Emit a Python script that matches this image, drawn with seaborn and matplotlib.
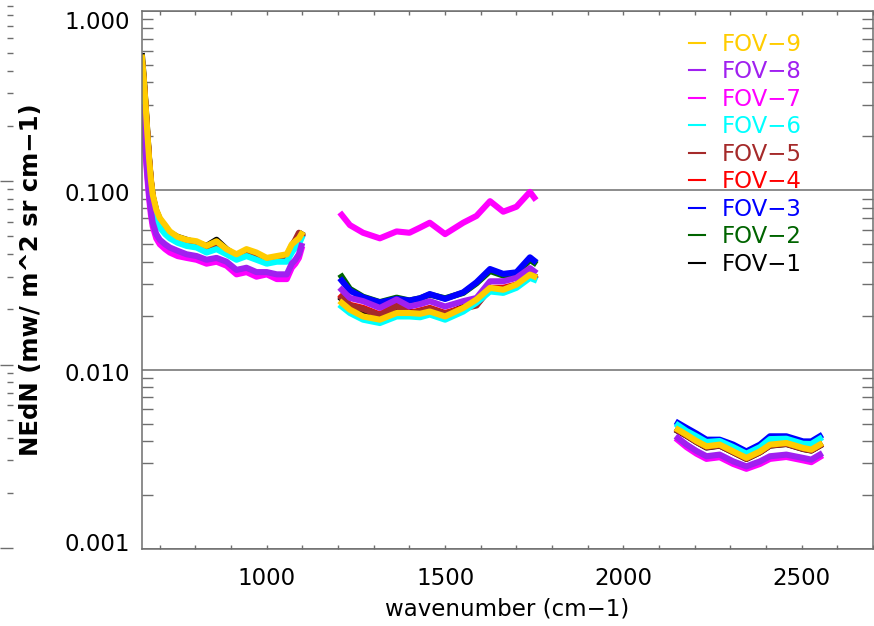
import matplotlib
matplotlib.use("Agg")
import matplotlib.pyplot as plt
import matplotlib.transforms as mtransforms
from matplotlib.lines import Line2D
from matplotlib.ticker import MultipleLocator, LogLocator, NullFormatter, FixedLocator
import numpy as np
import pandas as pd
import seaborn as sns

# ---------------- data ----------------
fov_names = ["FOV-1", "FOV-2", "FOV-3", "FOV-4", "FOV-5", "FOV-6", "FOV-7", "FOV-8", "FOV-9"]
fov_labels = ["FOV\u22121", "FOV\u22122", "FOV\u22123", "FOV\u22124", "FOV\u22125",
              "FOV\u22126", "FOV\u22127", "FOV\u22128", "FOV\u22129"]
fov_colors = ["#000000", "#006400", "#0000FF", "#FF0000", "#A52A2A",
              "#00FFFF", "#FF00FF", "#A020F0", "#FFCC00"]

# long-wave band
lw_x = [650, 655, 660, 665, 670, 675, 680, 690, 700, 715, 728, 750, 775, 803, 831,
        859, 887, 915, 943, 971, 1000, 1028, 1056, 1070, 1080, 1090, 1097]
lw_fov1 = [0.56, 0.42, 0.30, 0.21, 0.148, 0.113, 0.093, 0.077, 0.069, 0.062, 0.058, 0.055, 0.053, 0.051,
           0.049, 0.053, 0.047, 0.043, 0.046, 0.044, 0.041, 0.042, 0.043, 0.049, 0.052, 0.054, 0.057]
lw_fov2 = [0.53, 0.41, 0.29, 0.20, 0.146, 0.111, 0.091, 0.075, 0.068, 0.062, 0.057, 0.054, 0.052, 0.050,
           0.048, 0.050, 0.046, 0.043, 0.045, 0.044, 0.041, 0.042, 0.042, 0.048, 0.051, 0.053, 0.056]
lw_fov3 = [0.52, 0.40, 0.28, 0.20, 0.144, 0.110, 0.090, 0.074, 0.067, 0.061, 0.057, 0.053, 0.051, 0.050,
           0.048, 0.050, 0.046, 0.043, 0.045, 0.043, 0.041, 0.041, 0.042, 0.047, 0.050, 0.052, 0.055]
lw_fov4 = [0.52, 0.40, 0.29, 0.20, 0.145, 0.111, 0.091, 0.075, 0.067, 0.061, 0.056, 0.053, 0.051, 0.050,
           0.048, 0.049, 0.046, 0.042, 0.045, 0.043, 0.041, 0.041, 0.042, 0.048, 0.051, 0.053, 0.056]
lw_fov5 = [0.53, 0.41, 0.29, 0.205, 0.147, 0.112, 0.092, 0.076, 0.068, 0.062, 0.057, 0.054, 0.052, 0.050,
           0.048, 0.050, 0.046, 0.043, 0.045, 0.044, 0.041, 0.042, 0.043, 0.049, 0.053, 0.058, 0.056]
lw_fov6 = [0.47, 0.36, 0.26, 0.18, 0.13, 0.100, 0.083, 0.068, 0.062, 0.057, 0.054, 0.051, 0.049, 0.048,
           0.045, 0.047, 0.044, 0.041, 0.043, 0.041, 0.039, 0.040, 0.040, 0.045, 0.048, 0.050, 0.054]
lw_fov7 = [0.27, 0.22, 0.16, 0.118, 0.090, 0.073, 0.063, 0.054, 0.050, 0.047, 0.045, 0.043, 0.042, 0.041,
           0.039, 0.040, 0.038, 0.034, 0.035, 0.033, 0.034, 0.032, 0.032, 0.037, 0.039, 0.042, 0.047]
lw_fov8 = [0.29, 0.23, 0.17, 0.125, 0.095, 0.077, 0.066, 0.057, 0.053, 0.050, 0.048, 0.046, 0.044, 0.043,
           0.041, 0.042, 0.040, 0.036, 0.037, 0.035, 0.035, 0.034, 0.034, 0.039, 0.041, 0.044, 0.049]
lw_fov9 = [0.55, 0.42, 0.30, 0.21, 0.15, 0.115, 0.095, 0.078, 0.070, 0.064, 0.059, 0.055, 0.053, 0.052,
           0.049, 0.052, 0.047, 0.044, 0.047, 0.045, 0.042, 0.043, 0.044, 0.050, 0.052, 0.054, 0.057]

# mid-wave band
mw_x = [1210, 1233, 1270, 1317, 1364, 1400, 1430, 1457, 1500, 1551, 1588, 1626, 1663, 1700, 1738, 1750]
mw_fov1 = [0.0248, 0.0224, 0.0212, 0.0198, 0.0220, 0.0210, 0.0208, 0.0215, 0.0203, 0.0224, 0.0238, 0.0280,
           0.0280, 0.0292, 0.0335, 0.0330]
mw_fov2 = [0.0330, 0.0282, 0.0255, 0.0238, 0.0252, 0.0243, 0.0250, 0.0262, 0.0250, 0.0268, 0.0303, 0.0355,
           0.0335, 0.0342, 0.0410, 0.0395]
mw_fov3 = [0.0314, 0.0276, 0.0253, 0.0237, 0.0248, 0.0243, 0.0250, 0.0264, 0.0248, 0.0270, 0.0307, 0.0364,
           0.0342, 0.0349, 0.0423, 0.0405]
mw_fov4 = [0.0256, 0.0230, 0.0221, 0.0203, 0.0230, 0.0207, 0.0214, 0.0221, 0.0207, 0.0221, 0.0230, 0.0286,
           0.0286, 0.0298, 0.0339, 0.0325]
mw_fov5 = [0.0252, 0.0228, 0.0218, 0.0201, 0.0226, 0.0205, 0.0212, 0.0219, 0.0205, 0.0219, 0.0228, 0.0283,
           0.0282, 0.0295, 0.0342, 0.0328]
mw_fov6 = [0.0225, 0.0207, 0.0190, 0.0182, 0.0198, 0.0198, 0.0196, 0.0203, 0.0190, 0.0211, 0.0236, 0.0273,
           0.0268, 0.0286, 0.0325, 0.0318]
mw_fov7 = [0.073, 0.064, 0.058, 0.054, 0.059, 0.058, 0.062, 0.066, 0.057, 0.066, 0.072, 0.087,
           0.076, 0.081, 0.098, 0.091]
mw_fov8 = [0.0279, 0.0251, 0.0241, 0.0221, 0.0246, 0.0225, 0.0232, 0.0241, 0.0225, 0.0241, 0.0251, 0.0311,
           0.0311, 0.0325, 0.0368, 0.0353]
mw_fov9 = [0.0236, 0.0216, 0.0198, 0.0190, 0.0207, 0.0207, 0.0205, 0.0211, 0.0198, 0.0221, 0.0246, 0.0286,
           0.0279, 0.0298, 0.0339, 0.0331]

# short-wave band
sw_x = [2153, 2177, 2205, 2233, 2270, 2308, 2345, 2383, 2411, 2457, 2504, 2527, 2551]
sw_fov1 = [0.00455, 0.00428, 0.00395, 0.00368, 0.00377, 0.00346, 0.00318, 0.00346, 0.00377, 0.00385,
           0.00361, 0.00354, 0.00377]
sw_fov2 = [0.00462, 0.00433, 0.00401, 0.00373, 0.00381, 0.00349, 0.00321, 0.00349, 0.00381, 0.00389,
           0.00365, 0.00357, 0.00381]
sw_fov3 = [0.00504, 0.00473, 0.00440, 0.00407, 0.00407, 0.00382, 0.00350, 0.00382, 0.00425, 0.00425,
           0.00398, 0.00398, 0.00425]
sw_fov4 = [0.00460, 0.00430, 0.00398, 0.00372, 0.00380, 0.00348, 0.00320, 0.00348, 0.00380, 0.00388,
           0.00364, 0.00356, 0.00380]
sw_fov5 = [0.00458, 0.00432, 0.00396, 0.00370, 0.00378, 0.00347, 0.00319, 0.00347, 0.00378, 0.00386,
           0.00362, 0.00355, 0.00378]
sw_fov6 = [0.00490, 0.00455, 0.00425, 0.00395, 0.00400, 0.00370, 0.00340, 0.00370, 0.00410, 0.00412,
           0.00386, 0.00385, 0.00412]
sw_fov7 = [0.00405, 0.00370, 0.00340, 0.00318, 0.00325, 0.00298, 0.00280, 0.00298, 0.00318, 0.00326,
           0.00312, 0.00305, 0.00326]
sw_fov8 = [0.00416, 0.00382, 0.00352, 0.00329, 0.00336, 0.00308, 0.00289, 0.00308, 0.00329, 0.00336,
           0.00322, 0.00315, 0.00336]
sw_fov9 = [0.00463, 0.00434, 0.00400, 0.00374, 0.00382, 0.00350, 0.00322, 0.00350, 0.00382, 0.00390,
           0.00366, 0.00358, 0.00382]

y_tick_values = [0.001, 0.01, 0.1, 1.0]
y_tick_labels = ["0.001", "0.010", "0.100", "1.000"]
x_tick_values = [1000, 1500, 2000, 2500]
x_tick_labels = ["1000", "1500", "2000", "2500"]

# ---------------- assemble a long table ----------------
bands = {
    "LW": (lw_x, [lw_fov1, lw_fov2, lw_fov3, lw_fov4, lw_fov5, lw_fov6, lw_fov7, lw_fov8, lw_fov9]),
    "MW": (mw_x, [mw_fov1, mw_fov2, mw_fov3, mw_fov4, mw_fov5, mw_fov6, mw_fov7, mw_fov8, mw_fov9]),
    "SW": (sw_x, [sw_fov1, sw_fov2, sw_fov3, sw_fov4, sw_fov5, sw_fov6, sw_fov7, sw_fov8, sw_fov9]),
}
rows = []
for band, (xs, series) in bands.items():
    for name, ys in zip(fov_names, series):
        for xv, yv in zip(xs, ys):
            rows.append({"wavenumber": xv, "nedn": yv, "fov": name, "seg": band + "_" + name})
df = pd.DataFrame(rows)
palette = dict(zip(fov_names, fov_colors))

# ---------------- figure ----------------
plt.rcParams["font.family"] = ["DejaVu Sans"]
W, H = 874, 626
fig = plt.figure(figsize=(W / 100, H / 100), dpi=100)
fig.patch.set_facecolor("white")

L, R, T, B = 142, 873, 11, 549
ax = fig.add_axes([L / W, (H - B) / H, (R - L) / W, (B - T) / H])

sns.lineplot(data=df, x="wavenumber", y="nedn", hue="fov", hue_order=fov_names,
             units="seg", estimator=None, sort=False, palette=palette,
             linewidth=4.4, legend=False, ax=ax)

ax.set_yscale("log")
ax.set_ylim(0.001, 1.0)
ax.set_xlim(650, 2700)

gray = "#6e6e6e"
for s in ax.spines.values():
    s.set_color(gray)
    s.set_linewidth(1.1)

# y axis: gridlines at decades, minor ticks inside on both sides
ax.yaxis.set_major_locator(FixedLocator(y_tick_values))
ax.set_yticklabels(y_tick_labels)
ax.yaxis.set_minor_locator(LogLocator(base=10, subs=np.arange(2, 10)))
ax.yaxis.set_minor_formatter(NullFormatter())
ax.tick_params(axis="y", which="major", length=0, pad=9, labelsize=16.5, left=True, right=True)
ax.tick_params(axis="y", which="minor", direction="in", length=8, width=1.0, color=gray,
               left=True, right=True)
ax.grid(axis="y", which="major", color=gray, linewidth=1.1)
ax.grid(axis="x", visible=False)
ax.set_axisbelow(True)

# x axis: small inward ticks every 100 on both sides
ax.xaxis.set_major_locator(FixedLocator(x_tick_values))
ax.set_xticklabels(x_tick_labels)
ax.xaxis.set_minor_locator(MultipleLocator(100))
ax.tick_params(axis="x", which="both", direction="in", length=3, width=1.0, color=gray,
               top=True, bottom=True)
ax.tick_params(axis="x", which="major", pad=13, labelsize=16.5)

# IDL-like label placement for the extreme y labels
offsets = {"1.000": -9, "0.100": -2, "0.010": -2, "0.001": 7}
for lab in ax.get_yticklabels():
    dy = offsets.get(lab.get_text(), 0)
    lab.set_transform(lab.get_transform() + mtransforms.ScaledTranslation(0, dy / 100, fig.dpi_scale_trans))

ax.set_xlabel("wavenumber (cm\u22121)", fontsize=16.5)
ax.xaxis.set_label_coords(0.5, -0.09)
ax.set_ylabel("NEdN (mw/ m^2 sr cm\u22121)", fontsize=17.5, fontweight="bold")
ax.yaxis.set_label_coords(-0.135, 0.5)

# legend (FOV-9 at top)
handles = [Line2D([], [], color=c, linewidth=1.5) for c in fov_colors][::-1]
labels = fov_labels[::-1]
leg = ax.legend(handles, labels, loc="upper left", bbox_to_anchor=(689 / W, 1 - 33 / H),
                bbox_transform=fig.transFigure, frameon=False, fontsize=16.5,
                handlelength=0.7, handletextpad=0.72, labelspacing=0.195, borderpad=0,
                borderaxespad=0, labelcolor="linecolor")

# faint partial axis at the far left edge of the picture
gax = fig.add_axes([13 / W, (H - 548) / H, 0.0005, 550.5 / H])
gax.set_yscale("log")
gax.set_ylim(0.01, 10)
gax.patch.set_visible(False)
for s in gax.spines.values():
    s.set_visible(False)
gax.set_xticks([])
gax.yaxis.set_minor_locator(LogLocator(base=10, subs=np.arange(2, 10)))
gax.yaxis.set_minor_formatter(NullFormatter())
gax.tick_params(axis="y", which="major", direction="out", length=9.4, width=1.0, color=gray,
                labelleft=False)
gax.tick_params(axis="y", which="minor", direction="out", length=4.3, width=1.0, color=gray)

fig.savefig("out.png", dpi=100, facecolor="white")
